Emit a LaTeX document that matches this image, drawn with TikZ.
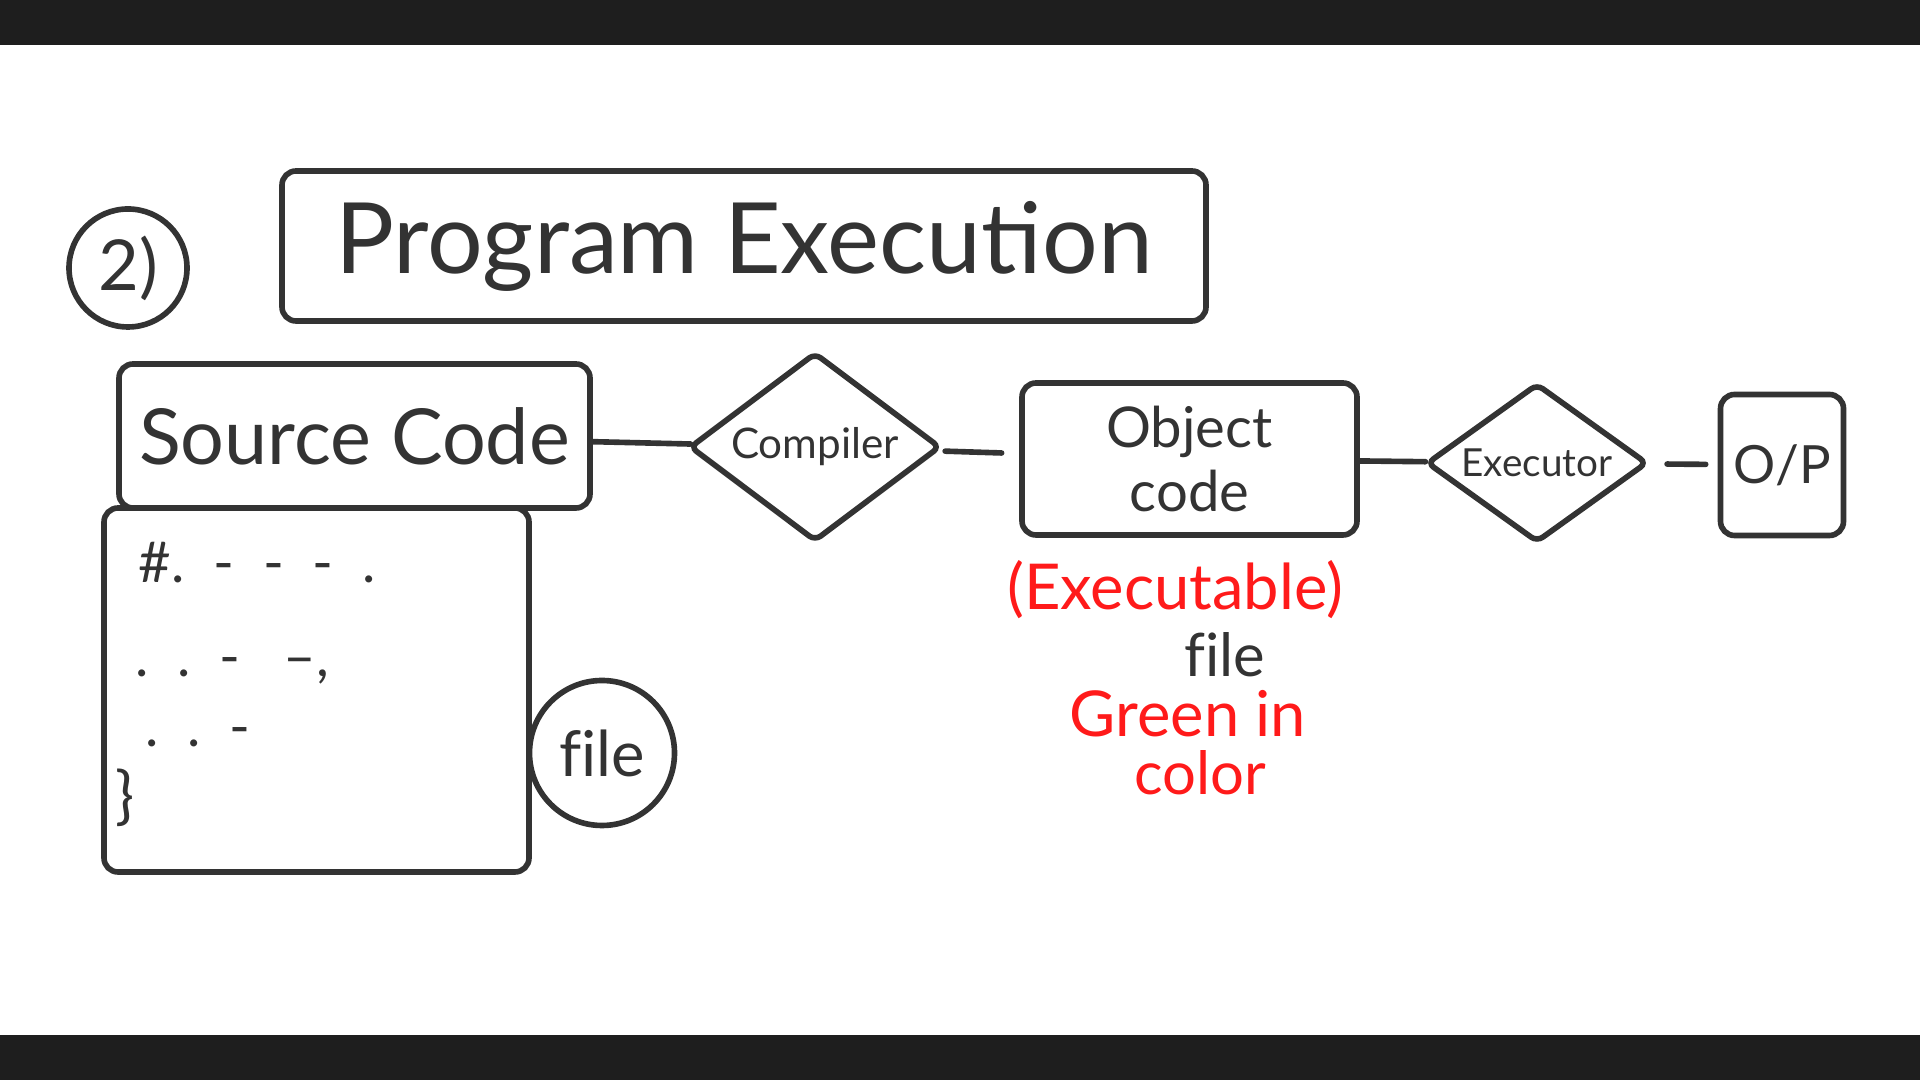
\documentclass[tikz,border=0pt]{standalone}
\usepackage{fontspec}
\setmainfont{Lato}
\usepackage{xcolor}
\definecolor{InkGray}{HTML}{333333}
\definecolor{InkRed} {HTML}{FF1A1A}
\definecolor{BarBlack}{HTML}{1E1E1E}
\usetikzlibrary{positioning,shapes.geometric}
\newcommand{\fsz}[1]{\fontsize{#1}{1.15\dimexpr #1pt\relax}\selectfont}

\begin{document}
\begin{tikzpicture}[
  ink/.style={draw=InkGray,line width=1.6pt,rounded corners=4pt,
    text=InkGray,inner sep=0pt},
  box/.style={ink,rectangle,align=center},
  dia/.style={ink,diamond,rounded corners=2pt},
  ring/.style={ink,circle},
  link/.style={InkGray,line width=1.6pt,line cap=round},
  txt/.style={text=InkGray,inner sep=0pt},
  note/.style={text=InkRed,inner sep=0pt}]
  \useasboundingbox (0,0) rectangle (19.2,10.8);
  \fill[BarBlack] (0,10.35) rectangle (19.2,10.8);
  \fill[BarBlack] (0,0) rectangle (19.2,0.45);
  % heading
  \node[ring,minimum size=1.18cm,font=\fsz{20}](num) at (1.28,8.12) {2)};
  \node[box,minimum width=9.24cm,minimum height=1.5cm,font=\fsz{28}]
    (title) at (7.44,8.34) {Program Execution};
  % source code and its file
  \node[box,minimum width=4.71cm,minimum height=1.44cm,font=\fsz{22}]
    (src) at (3.545,6.44) {Source Code};
  \node[box,minimum width=4.25cm,minimum height=3.64cm](codebox)
    at (3.165,3.90) {};
  \node[txt,anchor=west,font=\fsz{16}](line1) at (1.38,5.17) {\#.\ \ -\ \ -\ \ -\ \ .};
  \node[txt,anchor=west,font=\fsz{16}](line2) at (1.35,4.09) {.\ \ .\ \ -\ \ \ --,};
  \node[txt,anchor=west,font=\fsz{16}](line3) at (1.45,3.43) {.\ \ .\ \ -};
  \node[txt,anchor=west,font=\fsz{18}](line4) at (1.15,2.82) {\}};
  \node[ring,minimum size=1.45cm,font=\fsz{18}](filec) at (6.02,3.27) {f\kern0pt ile};
  % pipeline
  \node[dia,minimum width=2.51cm,minimum height=1.89cm,aspect=1.33,
    font=\fsz{12}](comp) at (8.15,6.33) {Compiler};
  \node[box,minimum width=3.35cm,minimum height=1.52cm,font=\fsz{16}]
    (obj) at (11.895,6.21) {Object\\code};
  \node[dia,minimum width=2.21cm,minimum height=1.59cm,aspect=1.39,
    font=\fsz{11}](exec) at (15.37,6.17) {Executor};
  \node[box,minimum width=1.23cm,minimum height=1.41cm,font=\fsz{15}]
    (op) at (17.82,6.15) {O/P};
  \draw[link](src)--(comp);
  \draw[link,shorten <=2pt,shorten >=5pt](comp)--(obj);
  \draw[link](obj)--(exec);
  \draw[link,shorten <=0.18cm,shorten >=0.12cm](exec)--(op);
  % annotations
  \node[note,font=\fsz{18}](exe) at (11.75,4.90) {(Executable)};
  \node[txt,font=\fsz{17},below=0.12cm of exe,xshift=0.5cm](efile) {f\kern0pt ile};
  \node[note,font=\fsz{18},below=0.12cm of efile,xshift=-0.37cm](green) {Green in};
  \node[note,font=\fsz{17},below=0.12cm of green,xshift=0.12cm](color) {color};
\end{tikzpicture}
\end{document}
